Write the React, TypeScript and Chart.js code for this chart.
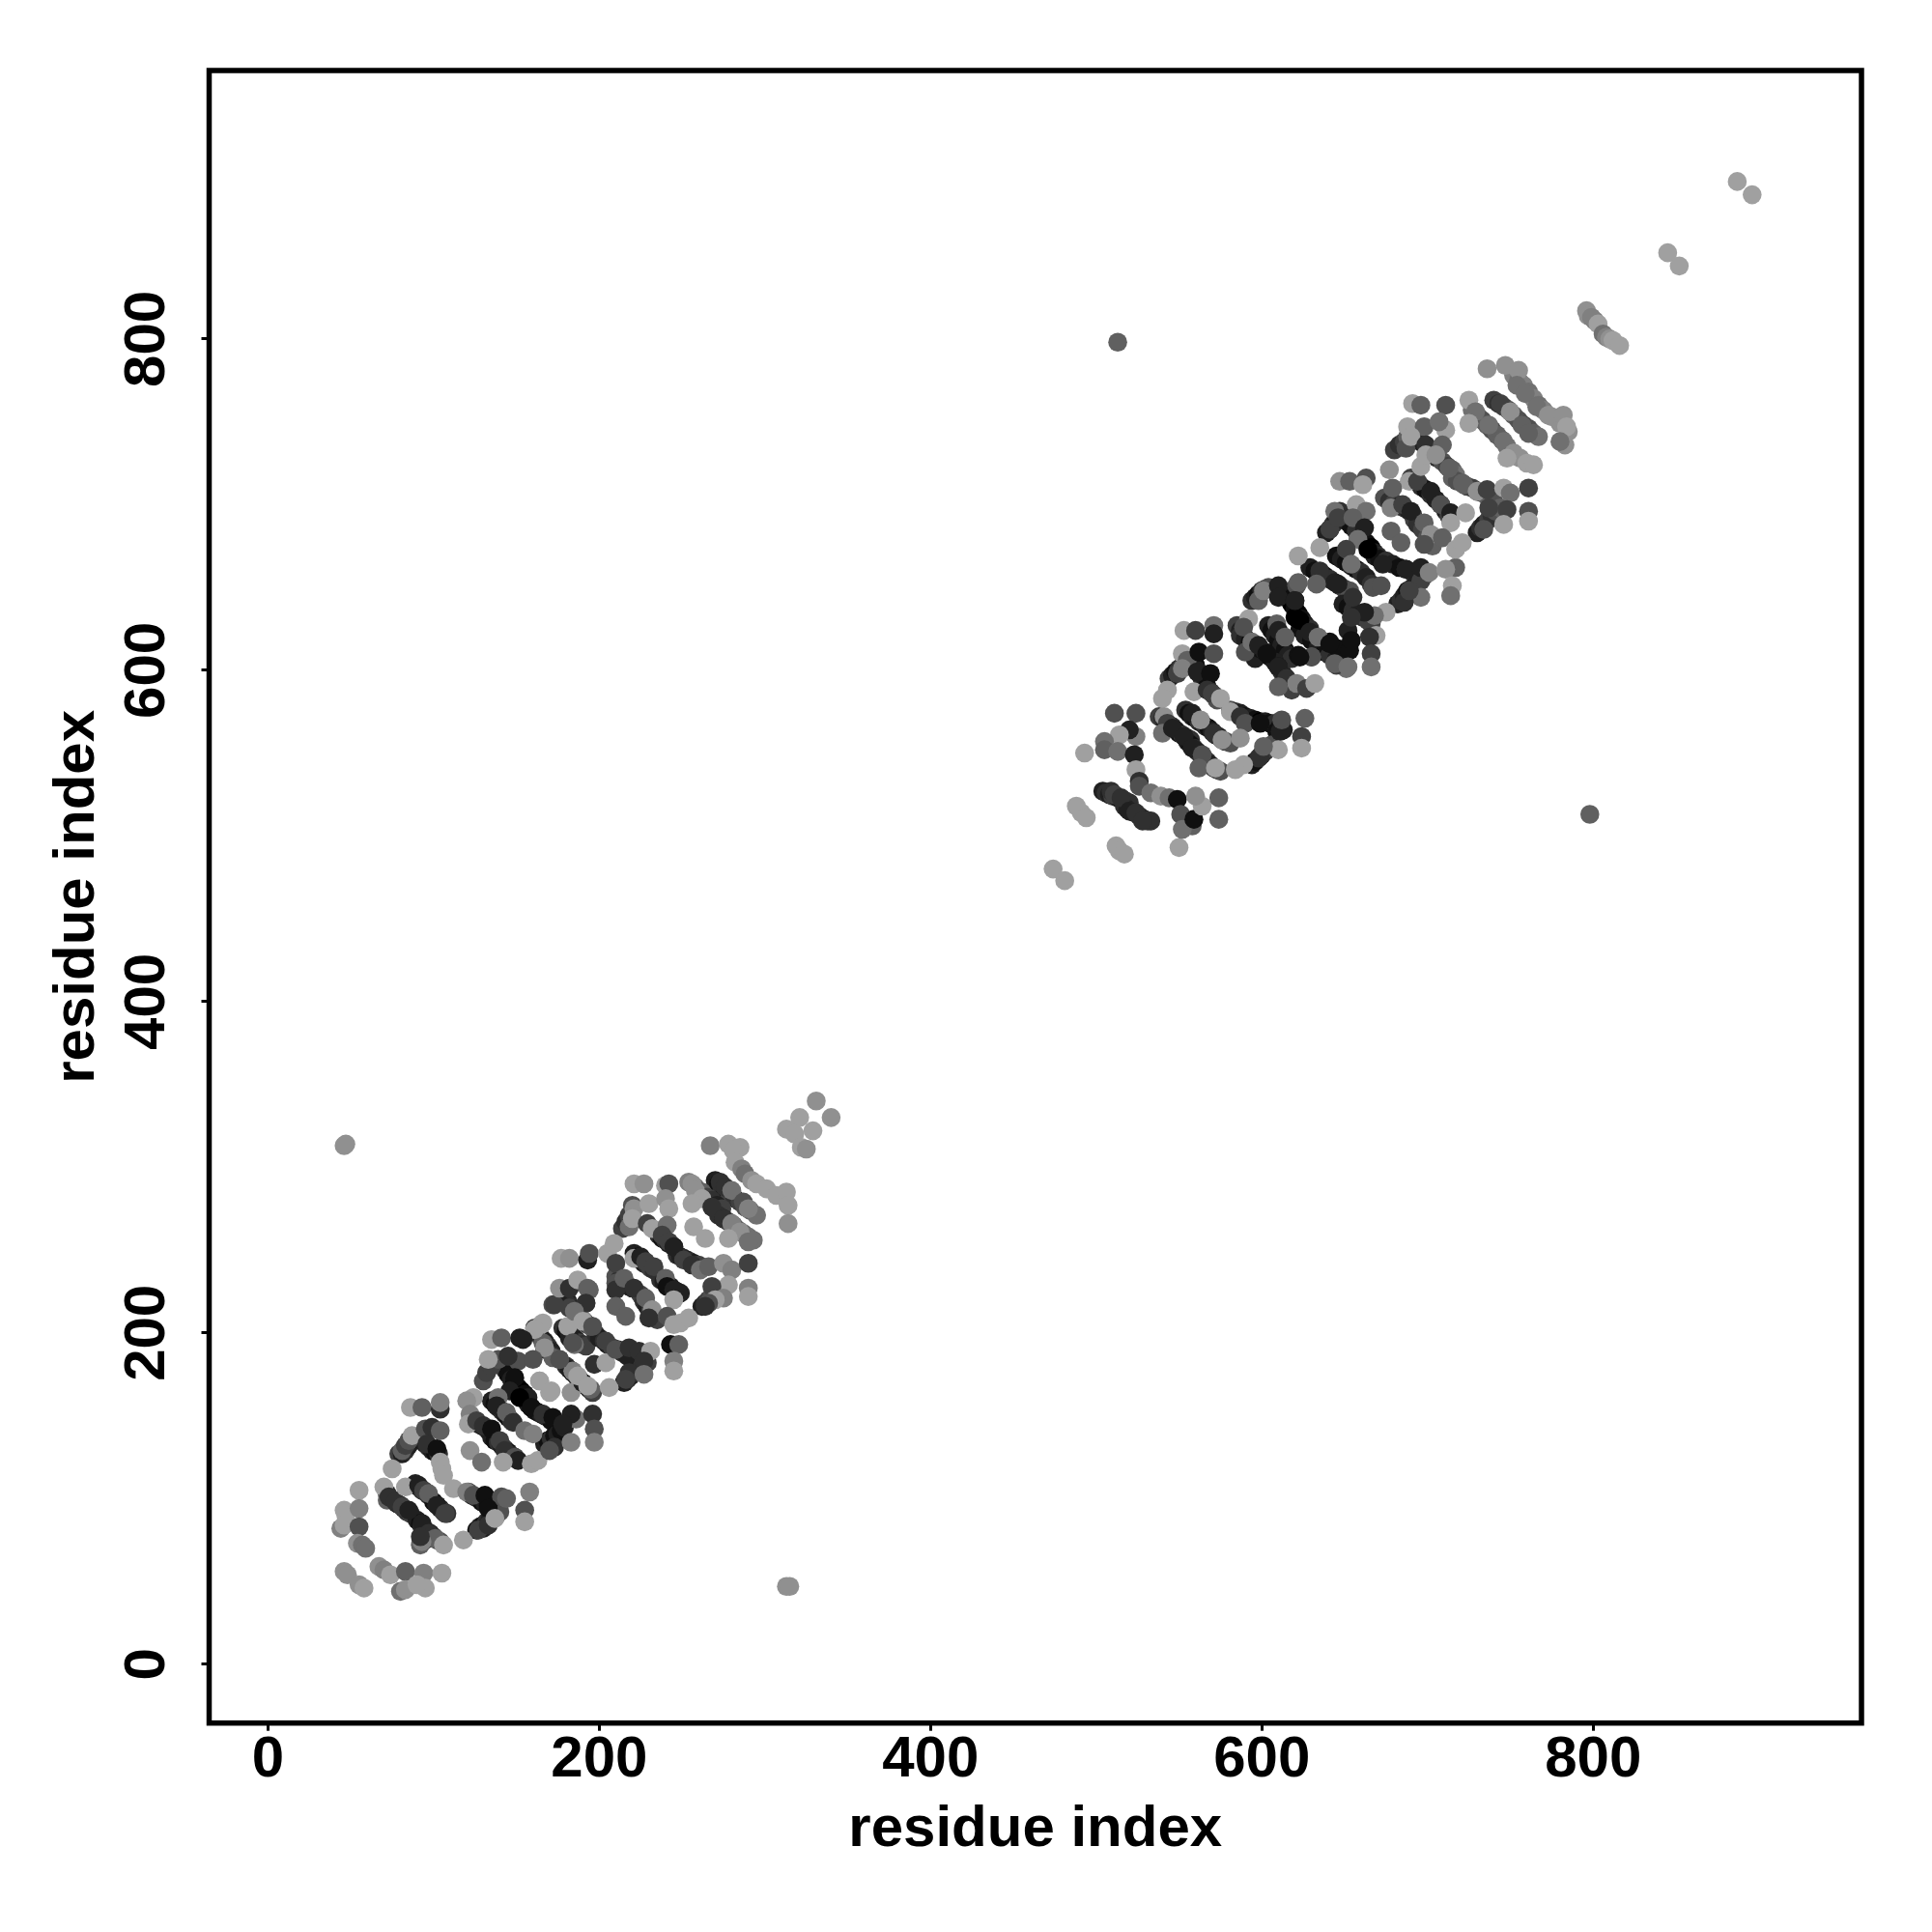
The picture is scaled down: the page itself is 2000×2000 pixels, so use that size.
import React, { useEffect, useRef } from "react";
import { Chart, registerables } from "chart.js";

Chart.register(...registerables);

// [residue i, residue j, contact strength]
type Contact = [number, number, number];

const axisLabel = "residue index";
const tickValues = [0, 200, 400, 600, 800];

// Strong contacts that lie underneath the lighter ones along each band
const lowerBands: Contact[] = [
  [72,103,8],[74,100,9],[76,99,7],[78,97,10],[80,96,8],[82,94,9],[84,92,8],[86,91,7],
  [89,109,9],[91,107,10],[93,105,8],[95,104,9],[97,102,8],[100,98,10],[102,96,8],[104,94,9],[106,92,7],[108,91,8],
  [90,87,9],[92,85,10],[93,83,8],[95,81,9],[98,79,9],[100,77,8],[102,75,7],[104,74,6],[92,72,5],[95,75,7],
  [79,127,7],[81,127,9],[83,129,8],[85,132,9],[93,135,10],[95,133,9],[97,131,8],[99,129,9],[101,128,10],[103,127,8],
  [126,81,10],[128,83,9],[130,84,10],[132,86,8],[134,87,9],[136,89,8],[138,90,7],[140,92,6],
  [121,104,7],[123,102,8],[125,101,9],[127,100,7],[129,98,10],[131,97,9],[133,96,10],
  [123,147,6],[125,146,9],[127,145,8],[129,144,9],[131,143,10],[133,141,9],[135,137,9],[137,135,10],[139,134,8],[141,132,9],[143,130,7],[145,128,10],[147,126,8],[149,125,9],
  [135,159,9],[137,157,10],[139,155,9],[141,153,8],[143,151,9],[145,149,10],[147,147,8],
  [143,178,8],[145,175,10],[147,172,9],[149,170,11],[151,167,10],[153,165,11],[155,163,10],[157,161,9],
  [157,157,9],[159,155,10],[161,153,9],[163,152,10],[165,151,9],[167,150,10],[169,149,8],[171,147,10],
  [167,133,9],[169,135,10],[171,136,8],[173,138,10],[175,139,9],[177,141,10],[179,143,9],
  [161,203,7],[163,200,9],[165,197,8],[167,195,9],[169,192,8],[171,189,9],[172,186,8],
  [178,203,8],[180,201,10],[182,199,9],[184,198,8],[186,196,9],[188,194,7],[190,193,8],[192,192,7],
  [180,180,8],[182,178,9],[184,176,10],[186,174,8],[188,172,9],[190,170,10],[192,168,8],[194,166,9],[196,164,7],
  [221,248,9],[223,246,10],[225,244,8],[227,242,9],[229,241,8],[231,239,7],[233,238,8],[237,232,8],[239,231,9],[241,229,10],[243,228,9],[245,226,10],[247,225,8],[249,224,9],
  [210,234,6],[212,232,8],[214,231,7],[216,229,9],[218,228,8],[220,227,9],[225,223,7],[227,219,8],[229,216,9],[231,213,7],[233,210,8],[235,208,7],
  [214,263,7],[216,267,8],[218,271,7],[220,277,6],
  [236,259,8],[238,257,10],[240,256,8],[242,254,9],[245,252,10],[247,247,8],[249,246,9],[251,245,8],[253,244,9],[255,243,8],[257,242,9],[260,241,7],
  [262,216,9],[264,218,8],[266,220,7],[268,222,6],[270,224,7],[272,226,5],
  [270,292,9],[272,290,10],[274,288,8],[276,286,9],[279,283,7],[282,281,8],[285,279,7],[288,276,6],[291,274,5],[295,271,4],
  [254,291,3],[258,288,4],[262,285,5],[265,282,7],[268,280,8],[271,277,9],[274,275,7],[272,271,8],[275,269,9],[278,267,7],[281,265,6],[284,262,5],[287,260,5],[290,258,4],[293,256,4],
  [179,221,8],[181,219,9],[183,216,8],[185,214,9],[187,212,7],[189,209,8],[191,207,6],[193,205,7],[196,203,6],
  [198,199,8],[200,197,9],[203,195,8],[205,193,9],[208,191,7],[211,190,9],[214,188,8],[217,186,9],
  [215,170,9],[217,172,8],[219,174,9],[221,176,8],[224,178,9],[226,180,8],[229,182,7],
];
const lowerStart: Contact[] = [
  [46,56,2],[48,54,2],[55,48,2],[58,46,1],[67,59,2],[70,57,3],[74,54,1],[83,56,5],[94,55,3],[105,55,1],[80,44,4],[83,45,2],[95,46,1],[90,48,1],
  [55,105,1],[46,93,1],[47,90,1],[44,82,3],[46,84,1],[55,94,3],[55,83,6],[54,73,2],[57,72,4],[59,70,4],
  [70,107,1],[72,99,5],[73,101,8],[77,98,8],[81,95,7],[85,93,9],[83,107,1],[91,108,9],[94,105,7],[97,103,5],[102,96,9],[107,91,7],[93,85,9],[97,79,8],[101,76,5],[106,72,1],[93,74,3],[92,77,8],[118,75,1],
  [86,155,1],[93,155,5],[104,154,8],[104,158,3],[81,129,5],[83,132,7],[85,135,6],[87,138,1],[95,142,6],[99,143,8],[104,141,5],[96,133,8],[102,130,10],[104,122,1],[105,118,1],[106,114,1],[75,118,1],
  [112,106,1],[120,104,3],[124,102,6],[131,102,10],[141,101,6],[144,100,5],[158,104,3],[155,93,6],[155,86,1],[133,94,10],[130,82,9],[127,81,7],[133,84,8],[137,88,1],
];
const lowerMiddle: Contact[] = [
  [124,161,1],[120,159,2],[122,151,3],[121,145,1],[126,147,7],[130,144,8],[135,142,10],[140,135,7],[143,129,8],[149,125,6],[151,123,9],[159,121,1],[163,123,1],[142,122,1],[122,129,2],[129,122,4],
  [135,196,1],[141,197,5],[152,197,9],[165,205,1],[162,202,1],[130,171,6],[132,176,7],[135,180,7],[139,184,6],[133,184,1],[151,183,6],[145,186,8],[149,173,10],[146,165,9],[152,161,11],[139,161,4],[138,156,9],[144,152,5],[148,146,8],[155,141,4],[160,139,3],
  [159,155,10],[166,151,8],[172,149,10],[186,148,4],[183,151,9],[178,145,9],[196,151,8],[197,142,6],[197,134,3],[173,131,8],[170,129,6],[183,134,3],[164,171,1],[170,164,1],[183,164,2],
  [172,217,6],[182,215,7],[192,218,6],[194,226,5],[166,194,5],[167,190,8],[172,185,5],[176,184,5],[185,193,4],[182,197,9],[195,204,5],[190,208,2],[184,177,3],[190,170,9],[195,166,5],[197,181,8],
  [177,245,1],[182,245,2],[193,244,9],[194,248,6],[166,206,1],[161,202,1],[181,204,1],[184,194,6],[176,184,6],[167,191,2],[160,184,6],[154,196,9],[204,182,1],[187,174,1],[193,168,1],[206,167,1],[164,171,1],[171,165,1],
  [173,217,7],[176,227,2],[182,227,8],[187,232,1],[193,227,5],[192,218,8],[185,213,4],[190,207,1],[196,204,6],[204,195,7],[210,190,6],[218,191,8],[224,189,8],[231,189,1],[227,183,8],[218,176,8],[216,172,7],[227,175,4],[243,193,10],[248,193,5],[245,183,3],[245,177,1],
  [205,248,1],[209,254,1],[210,242,7],[221,245,1],[225,246,9],[228,243,7],[233,240,7],[240,233,5],[241,228,10],[245,226,9],[245,220,1],
  [210,230,6],[210,226,8],[215,233,5],[221,227,8],[228,221,5],[232,214,2],[230,209,8],[241,210,6],[245,205,1],[249,206,1],[254,209,1],[210,216,5],[216,210,5],
];
const lowerEnd: Contact[] = [
  [221,290,1],[227,290,2],[240,289,1],[242,290,6],[221,275,2],[230,278,1],[240,281,2],[242,275,1],[218,264,4],[220,269,1],[229,266,7],[232,263,1],[241,265,4],[238,259,7],[242,255,7],[245,252,9],[251,244,7],[256,241,8],[261,238,4],[266,240,5],[275,242,2],[280,238,3],[290,242,7],[290,227,3],[290,222,1],[278,229,1],[268,228,7],[275,221,3],[270,220,1],[266,218,6],[264,216,8],
  [256,290,2],[258,286,2],[262,281,1],[268,276,8],[275,269,8],[280,266,3],[285,261,2],[290,255,4],[278,257,1],[257,264,1],[264,257,1],[256,278,1],
  [273,291,8],[276,288,8],[280,286,4],[287,279,6],[290,275,3],
  [267,313,3],[278,314,1],[285,312,1],[281,310,1],[282,303,1],[286,299,3],[288,296,4],[292,292,2],[295,290,1],[301,287,1],[307,283,1],[313,285,1],[314,277,1],[314,266,2],
  [331,340,2],[340,330,2],[321,330,1],[313,323,1],[318,320,1],[329,322,1],[322,312,1],[325,311,2],
];
const upperBands: Contact[] = [
  [504,527,9],[506,526,8],[508,525,9],[510,524,7],[513,523,9],[516,522,8],[518,521,7],[520,520,8],[517,518,8],[519,516,9],[521,515,8],[523,514,9],[526,512,8],[529,510,9],[531,509,7],[533,509,8],
  [538,572,7],[540,571,8],[542,569,9],[544,567,10],[546,566,8],[548,564,9],[550,562,10],[552,561,8],[555,559,9],[557,558,8],
  [555,557,9],[557,555,10],[559,553,8],[561,551,9],[563,549,8],[565,547,10],[567,545,8],[569,543,9],[571,541,7],[573,540,8],[575,539,6],
  [554,576,8],[556,574,10],[558,572,9],[560,571,10],[562,569,8],[564,568,9],[566,566,8],[568,565,10],[570,563,9],[572,561,8],[574,560,9],[576,558,8],[578,557,7],[581,556,6],
  [544,595,7],[546,597,9],[548,599,10],[550,601,8],[552,602,7],[554,603,6],
  [558,605,9],[560,603,10],[561,600,9],[563,597,10],[564,595,8],[566,592,9],[567,590,10],[569,587,8],[571,585,7],[573,582,6],
  [581,576,6],[584,575,8],[587,574,9],[590,572,10],[593,571,9],[596,570,10],[599,569,11],[602,569,9],[605,568,10],[608,568,8],[611,566,10],[613,564,9],[609,563,10],
  [594,543,9],[596,545,10],[598,547,8],[600,549,9],[602,551,8],[604,553,7],[606,555,6],
  [585,627,7],[587,624,9],[589,621,10],[591,618,9],[593,614,10],[595,610,8],[596,607,9],
  [587,621,8],[590,619,9],[593,617,10],[596,615,9],[599,613,10],[602,611,9],[605,608,10],[608,605,8],
  [604,627,9],[606,624,10],[608,621,9],[610,618,10],[612,615,9],[614,612,10],[616,609,9],[618,607,8],[608,605,9],[610,602,10],[612,599,8],[614,596,9],[616,591,8],[618,588,7],
  [594,642,8],[596,644,9],[598,646,10],[600,648,8],[602,649,7],[604,650,6],
  [614,646,9],[616,643,10],[618,640,11],[620,637,10],[622,634,11],[624,631,10],[626,628,9],[629,625,8],
  [629,662,9],[632,660,10],[635,658,9],[638,657,10],[641,655,8],[644,653,9],[647,651,8],[650,649,7],[653,648,6],
  [639,683,9],[641,685,10],[643,688,8],[645,692,9],[647,696,8],
  [649,692,8],[651,690,9],[654,687,10],[657,684,8],[660,680,9],[663,677,10],[666,674,11],[668,671,9],[670,669,8],
  [645,669,10],[648,667,9],[651,665,10],[654,663,9],[657,661,10],[660,659,8],[663,656,9],[666,652,8],
  [668,669,9],[671,667,10],[675,666,8],[679,664,9],[683,662,10],[687,661,9],[691,659,8],[695,658,9],[698,657,7],
  [682,640,9],[684,642,8],[686,645,9],[688,648,10],[691,650,8],[693,652,9],[696,654,7],
  [649,640,9],[652,638,10],[655,636,8],[658,634,9],[661,632,8],[664,630,7],[666,628,7],
  [623,625,10],[626,621,9],[630,618,10],[634,614,9],[638,611,10],[641,609,8],[645,607,9],
  [680,733,7],[683,736,8],[686,738,7],[688,741,5],
  [694,739,8],[697,737,9],[700,734,8],[703,731,7],[706,728,8],[709,726,6],[712,723,7],[715,721,5],[717,718,4],
  [674,704,6],[677,702,8],[680,701,7],[683,699,9],[686,698,8],[689,696,9],[691,694,8],[692,691,7],[694,688,8],[697,685,7],[700,680,6],[703,675,5],
  [690,716,7],[693,714,9],[696,711,8],[699,709,10],[702,706,8],[705,703,9],[708,700,8],[711,696,9],[713,693,7],
  [715,716,5],[718,714,6],[721,713,5],[724,711,6],[727,710,7],[730,708,6],[733,707,7],[736,705,5],[740,702,6],
  [730,683,9],[732,686,8],[734,688,9],[737,691,7],[739,693,8],[741,696,6],[744,698,5],
  [727,757,4],[730,754,5],[733,751,6],[736,748,5],[739,745,6],[742,742,5],[745,739,5],[748,735,4],[752,731,3],[756,728,2],
  [740,763,7],[743,761,8],[746,759,7],[749,757,6],[752,754,5],[755,751,6],[758,748,7],[761,746,6],[764,743,5],[767,741,4],
  [752,778,3],[755,775,4],[758,772,3],[761,768,4],[764,764,3],[767,760,4],[770,757,3],[775,753,2],[780,749,2],[785,744,2],
];
const upperStart: Contact[] = [
  [474,480,1],[481,473,1],[488,518,1],[491,514,1],[494,511,1],[512,494,1],[514,491,1],[517,489,1],[493,550,1],[550,493,1],
  [511,574,6],[524,574,6],[524,560,3],[520,564,9],[514,561,1],[505,557,4],[505,552,5],[513,551,4],[523,549,9],[524,540,1],[526,533,8],[526,530,6],
  [509,527,8],[511,525,7],[515,523,8],[520,515,9],[524,514,8],[528,509,8],[533,526,4],[539,524,2],[544,523,4],[549,522,10],[551,513,6],[558,506,5],[552,504,4],[559,510,10],[564,518,1],[560,524,2],[574,523,5],[574,510,5],
  [553,624,1],[560,624,7],[571,627,4],[571,622,9],[552,610,1],[555,606,5],[562,611,10],[571,610,6],[549,598,7],[552,601,3],[561,599,9],[569,598,10],[543,588,1],[540,583,1],[559,587,1],[567,588,8],[570,586,7],[575,583,1],[581,575,1],[587,572,8],[590,568,6],[599,568,10],[611,563,9],[612,570,6],[626,571,5],[624,560,7],[624,553,1],[610,552,1],[599,548,8],[601,554,5],[589,543,1],[584,540,1],
  [541,572,2],[543,568,7],[540,562,4],[546,565,9],[553,560,9],[558,553,9],[564,549,6],[562,541,5],[572,541,1],[558,574,9],[563,570,2],[571,562,8],[576,558,2],[587,559,2],
];
const upperMiddle: Contact[] = [
  [592,631,1],[589,626,6],[590,611,6],[594,617,4],[598,615,9],[603,610,10],[598,642,5],[601,648,3],[610,651,9],[621,651,6],[610,644,9],[620,642,10],[623,630,11],[609,628,5],[610,624,9],[614,620,5],[622,609,10],[630,608,5],[610,602,9],[615,595,8],[621,592,3],[610,590,5],[627,589,7],[632,592,1],[629,623,9],[641,617,10],[646,613,10],[652,624,9],[651,601,4],[645,603,7],[653,612,10],[634,620,4],
  [622,669,1],[635,674,1],[622,653,5],[620,632,11],[620,642,9],[635,660,8],[633,652,5],[646,652,9],[655,644,8],[641,616,10],[630,608,6],[623,608,10],[644,604,5],[652,602,4],[654,618,10],[667,650,6],[672,651,6],[673,664,9],[687,661,9],[696,662,9],[701,659,3],[717,662,5],[711,661,2],[715,651,1],[714,645,4],[696,644,4],[686,641,8],[689,648,7],[675,635,1],[668,633,4],[662,635,9],[654,632,8],[669,621,1],[665,620,8],[666,610,7],[666,602,4],
  [647,714,2],[653,714,5],[663,716,6],[661,712,1],[657,700,1],[663,696,4],[644,696,4],[641,685,7],[646,692,7],[655,692,5],[662,686,9],[658,679,4],[664,673,11],[651,673,7],[654,664,4],
  [677,721,2],[689,714,1],[694,714,7],[702,708,9],[708,700,6],[714,695,9],[723,695,1],[714,689,1],[696,723,1],[679,710,5],[678,698,3],[685,700,7],[690,696,9],[698,689,5],[702,682,2],[698,676,6],[709,680,5],[717,673,1],[721,677,1],[678,684,5],[684,677,5],
];
const upperEnd: Contact[] = [
  [691,761,1],[696,760,5],[711,760,6],[688,747,1],[698,747,5],[711,745,1],[707,750,4],[687,734,6],[690,741,1],[699,736,8],[709,736,5],[699,730,1],[705,730,2],[713,722,5],
  [722,712,5],[730,708,2],[736,709,7],[746,710,1],[750,707,4],[761,710,7],[761,696,6],[761,690,1],[748,697,7],[737,698,7],[746,688,1],[734,685,6],
  [736,782,2],[747,784,2],[755,781,2],[754,772,4],[759,767,4],[766,759,4],[773,754,2],[782,754,2],[784,747,1],[783,736,2],[780,738,4],
  [725,763,1],[729,756,4],[737,748,4],[725,749,1],[746,738,4],[752,731,2],[760,725,1],[764,724,1],[748,728,1],
  [744,761,7],[750,756,2],[757,748,5],[761,743,5],
];
const tailContacts: Contact[] = [
  [796,817,2],[797,814,2],[799,813,3],[801,811,3],[803,809,1],[806,803,4],[808,801,3],[810,800,2],[812,799,1],[816,796,1],[845,852,1],[852,844,1],[887,895,1],[896,887,1],
];
const offDiagonalContacts: Contact[] = [
  [46,313,2],[47,314,2],[313,47,2],[315,47,2],[513,798,5],[798,513,5],
];

const contacts: Contact[] = [
  ...lowerBands, ...lowerStart, ...lowerMiddle, ...lowerEnd,
  ...upperBands, ...upperStart, ...upperMiddle, ...upperEnd,
  ...tailContacts, ...offDiagonalContacts,
];

function shade(strength: number): string {
  const g = Math.max(0, 176 - 16 * strength);
  return `rgb(${g},${g},${g})`;
}

const framePlugin = {
  id: "frame",
  afterDraw(chart: Chart) {
    const { ctx, chartArea: a } = chart;
    ctx.save();
    ctx.strokeStyle = "#000";
    ctx.lineWidth = 5.5;
    ctx.lineJoin = "miter";
    ctx.strokeRect(a.left, a.top, a.right - a.left, a.bottom - a.top);
    ctx.restore();
  },
};

function axis(side: "x" | "y") {
  const font = { family: "'Liberation Sans'", weight: "bold" as const, size: 60 };
  return {
    type: "linear" as const,
    min: -35.5,
    max: 962,
    afterFit(scale: any) {
      if (side === "x") scale.height = 216.3;
      else scale.width = 216.5;
    },
    afterBuildTicks(scale: any) {
      scale.ticks = tickValues.map((value) => ({ value }));
    },
    border: { display: false },
    grid: {
      display: true,
      drawOnChartArea: false,
      drawTicks: true,
      tickLength: 8,
      tickWidth: 3,
      tickColor: "#000",
    },
    ticks: {
      color: "#000",
      font,
      padding: side === "x" ? -5 : 5,
      autoSkip: false,
      crossAlign: side === "y" ? ("center" as const) : ("near" as const),
      minRotation: side === "y" ? 90 : 0,
      maxRotation: side === "y" ? 90 : 0,
      callback: (v: any) => String(v),
    },
    title: {
      display: true,
      text: axisLabel,
      color: "#000",
      font: { family: "'Liberation Sans'", weight: "bold" as const, size: 60 },
      padding: side === "x" ? { top: 0, bottom: 70 } : { top: 44, bottom: 0 },
    },
  };
}

export default function App() {
  const ref = useRef<HTMLCanvasElement>(null);
  useEffect(() => {
    const chart = new Chart(ref.current!, {
      type: "scatter",
      data: {
        datasets: [
          {
            label: "contacts",
            data: contacts.map(([x, y]) => ({ x, y })),
            backgroundColor: contacts.map((c) => shade(c[2])),
            borderWidth: 0,
            pointRadius: 9.8,
            pointHoverRadius: 9.8,
          },
        ],
      },
      options: {
        animation: false,
        responsive: false,
        layout: { padding: { top: 73, right: 73, left: 0, bottom: 0 } },
        plugins: { legend: { display: false }, tooltip: { enabled: false } },
        scales: { x: axis("x"), y: axis("y") } as any,
      },
      plugins: [framePlugin],
    });
    return () => chart.destroy();
  }, []);
  return (
    <div style={{ position: "absolute", left: 0, top: 0, width: 2000, height: 2000, background: "#fff" }}>
      <canvas ref={ref} width={2000} height={2000} style={{ display: "block" }} />
    </div>
  );
}
